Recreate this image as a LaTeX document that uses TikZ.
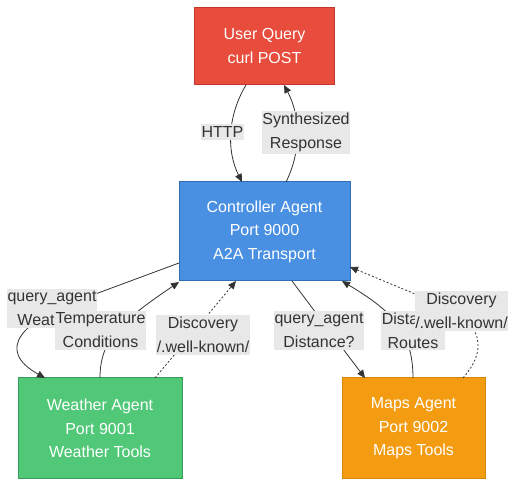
\documentclass[tikz,border=0pt]{standalone}
\usepackage{fontspec}
\setmainfont{Liberation Sans}
\usepackage{tikz}
\usetikzlibrary{positioning,calc,arrows.meta}
\usepackage{xcolor}

\definecolor{queryred}{HTML}{E74C3C}
\definecolor{queryedge}{HTML}{C0392B}
\definecolor{ctrlblue}{HTML}{4A90E2}
\definecolor{ctrledge}{HTML}{2F6DB5}
\definecolor{wthgreen}{HTML}{50C878}
\definecolor{wthedge}{HTML}{3A9A5C}
\definecolor{mapsorange}{HTML}{F39C12}
\definecolor{mapsedge}{HTML}{D4860B}
\definecolor{lblgray}{HTML}{E8E8E8}
\definecolor{inkgray}{HTML}{333333}

\tikzset{
  agent/.style={draw, line width=1pt, align=center, text=white,
    font=\fontsize{16}{23.5}\selectfont, inner sep=0pt},
  lbl/.style={fill=lblgray, text=inkgray, align=center,
    font=\fontsize{16}{24}\selectfont, inner xsep=0.5pt, inner ysep=2pt},
  call/.style={draw=inkgray, line width=0.8pt, -{Triangle[length=8pt,width=7pt]}},
  lookup/.style={call, dash pattern=on 2pt off 2pt}
}

\begin{document}
\begin{tikzpicture}[x=1pt, y=-1pt]
    \useasboundingbox (0,0) rectangle (523,494);

    % Agents
    \node[agent, fill=queryred, draw=queryedge, minimum width=140, minimum height=77]
      (user) at (264.5, 46) {User Query\\curl POST};
    \node[agent, fill=ctrlblue, draw=ctrledge, minimum width=171, minimum height=99]
      (ctrl) at (264.5, 231.5) {Controller Agent\\Port 9000\\A2A Transport};
    \node[agent, fill=wthgreen, draw=wthedge, minimum width=164, minimum height=101]
      (wth) at (100, 428.5) {Weather Agent\\Port 9001\\Weather Tools};
    \node[agent, fill=mapsorange, draw=mapsedge, minimum width=143, minimum height=101]
      (maps) at (413.5, 428.5) {Maps Agent\\Port 9002\\Maps Tools};

    % Ends on the box edges
    \coordinate (userS1) at (246, 85);
    \coordinate (userS2) at (284, 85);
    \coordinate (ctrlN1) at (242, 182);
    \coordinate (ctrlN2) at (286, 182);
    \coordinate (ctrlW1) at (179, 263);
    \coordinate (ctrlW2) at (179, 282);
    \coordinate (ctrlS1) at (236, 281);
    \coordinate (ctrlS2) at (292, 281);
    \coordinate (ctrlS3) at (342, 281);
    \coordinate (ctrlE1) at (350, 267);
    \coordinate (wthN1) at (45, 378);
    \coordinate (wthN2) at (100, 378);
    \coordinate (wthN3) at (155, 378);
    \coordinate (mapsN1) at (365, 378);
    \coordinate (mapsN2) at (413, 378);
    \coordinate (mapsN3) at (463, 378);

    % User <-> Controller
    \draw[call] (userS1) .. controls (228,115) and (226,150) .. (ctrlN1);
    \node[lbl] (http) at (222.5, 132) {HTTP};
    \draw[call] (ctrlN2) .. controls (302,150) and (300,115) .. (userS2);
    \node[lbl] (synth) at (306, 132.5) {Synthesized\\Response};

    % Controller <-> Weather
    \draw[call] (ctrlW1) -- (90,296) .. controls (20,320) and (-5,350) .. (wthN1);
    \node[lbl] (askwth) at (52, 308.5) {query\_agent\\Weather?};
    \draw[call] (wthN2) .. controls (100,340) and (120,322) .. (ctrlW2);
    \node[lbl] (temp) at (100.5, 330.5) {Temperature\\Conditions};
    \draw[lookup] (wthN3) -- (ctrlS1);
    \node[lbl] (discwth) at (203, 335) {Discovery\\/.well-known/};

    % Controller <-> Maps
    \draw[call] (ctrlS2) .. controls (310,305) and (340,345) .. (mapsN1);
    \node[lbl] (askmaps) at (319, 330.5) {query\_agent\\Distance?};
    \draw[call] (mapsN2) .. controls (413,330) and (390,310) .. (ctrlS3);
    \node[lbl] (routes) at (413, 330.5) {Distance\\Routes};
    \draw[lookup] (mapsN3) .. controls (492,345) and (480,315) .. (420,296) -- (ctrlE1);
    \node[lbl] (discmaps) at (461.5, 311) {Discovery\\/.well-known/};
\end{tikzpicture}
\end{document}
